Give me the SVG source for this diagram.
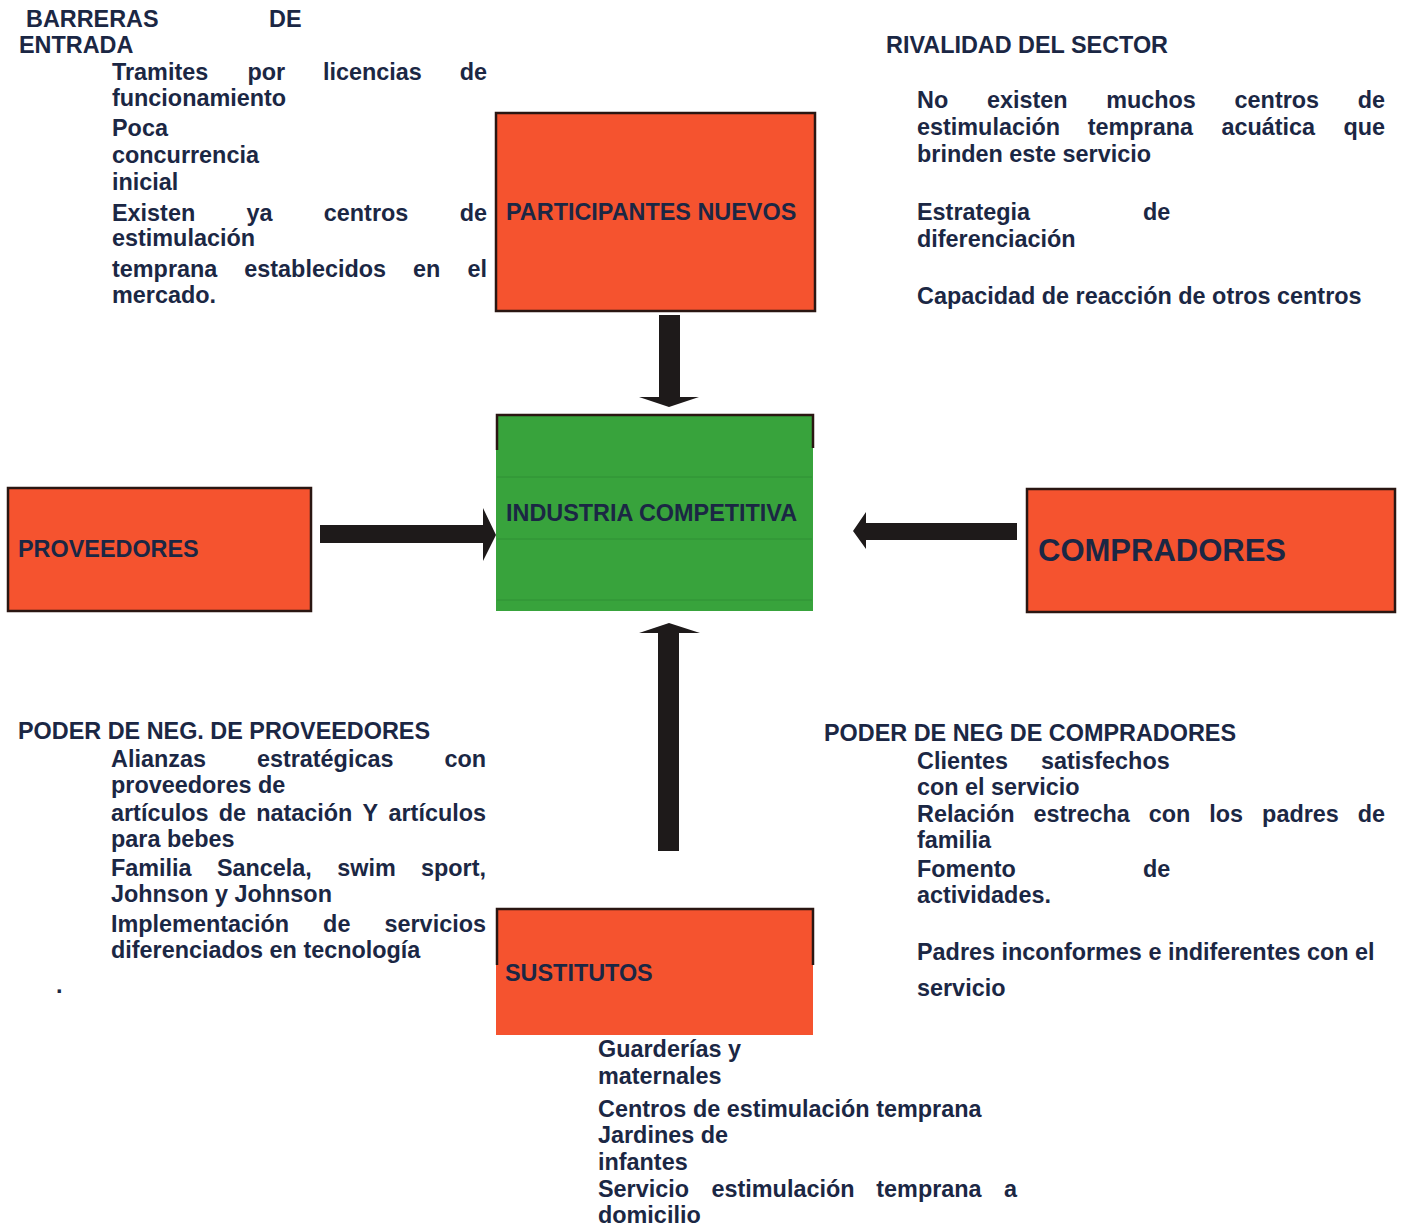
<svg xmlns="http://www.w3.org/2000/svg" width="1407" height="1230" viewBox="0 0 1407 1230">
<style>
.t{font-family:"Liberation Sans",Arial,sans-serif;font-weight:bold;font-size:23.4px;fill:#1b2744}
.big{font-size:31px}
.e{text-anchor:end}
.box{fill:#f5532f}
.grn{fill:#38a33c}
.bd{fill:none;stroke:#2a1612;stroke-width:2.5}
.arr{fill:#1e1a1a}
.faint{stroke:#2b8630;stroke-width:1;opacity:0.6}
</style>
<rect width="1407" height="1230" fill="#ffffff"/>

<g id="participantes-nuevos">
<rect class="box" x="496" y="113" width="319" height="198"/>
<rect class="bd" x="496" y="113" width="319" height="198"/>
<text class="t" x="506" y="220">PARTICIPANTES NUEVOS</text>
</g>

<g id="industria-competitiva">
<rect class="grn" x="496" y="415" width="317" height="196"/>
<line class="faint" x1="497" y1="477" x2="812" y2="477"/>
<line class="faint" x1="497" y1="539" x2="812" y2="539"/>
<line class="faint" x1="497" y1="600" x2="812" y2="600"/>
<path class="bd" d="M497,450 V415 H813 V448"/>
<text class="t" x="506" y="521">INDUSTRIA COMPETITIVA</text>
</g>

<g id="proveedores">
<rect class="box" x="8" y="488" width="303" height="123"/>
<rect class="bd" x="8" y="488" width="303" height="123"/>
<text class="t" x="18" y="557">PROVEEDORES</text>
</g>

<g id="compradores">
<rect class="box" x="1027" y="489" width="368" height="123"/>
<rect class="bd" x="1027" y="489" width="368" height="123"/>
<text class="t big" x="1038" y="561">COMPRADORES</text>
</g>

<g id="sustitutos">
<rect class="box" x="496" y="909" width="317" height="126"/>
<path class="bd" d="M497,965 V909 H813 V965"/>
<text class="t" x="505" y="981">SUSTITUTOS</text>
</g>

<g id="connectors">
<path class="arr" d="M659,315 H680 V397 H699 L669,407 L639,397 H659 Z"/>
<path class="arr" d="M320,525 H483 V508 L496,535 L483,561 V543 H320 Z"/>
<path class="arr" d="M1017,523 H866 V512 L853,531 L866,549 V540 H1017 Z"/>
<path class="arr" d="M658,851 V633 H639 L669,623 L700,633 H679 V851 Z"/>
</g>

<g id="barreras-de-entrada">
<text class="t" y="27"><tspan x="26">BARRERAS</tspan><tspan x="269">DE</tspan></text>
<text class="t" x="19" y="53">ENTRADA</text>
<text class="t" y="80"><tspan x="112">Tramites</tspan><tspan x="247.4">por</tspan><tspan x="323">licencias</tspan><tspan x="459.7">de</tspan></text>
<text class="t" x="112" y="106">funcionamiento</text>
<text class="t" x="112" y="136">Poca</text>
<text class="t" x="112" y="163">concurrencia</text>
<text class="t" x="112" y="190">inicial</text>
<text class="t" y="221"><tspan x="112">Existen</tspan><tspan x="246.5">ya</tspan><tspan x="323.8">centros</tspan><tspan x="459.7">de</tspan></text>
<text class="t" x="112" y="246">estimulación</text>
<text class="t" y="277"><tspan x="112">temprana</tspan><tspan x="244.3">establecidos</tspan><tspan x="413.1">en</tspan><tspan x="467.5">el</tspan></text>
<text class="t" x="112" y="303">mercado.</text>
</g>

<g id="rivalidad-del-sector">
<text class="t" x="886" y="53">RIVALIDAD DEL SECTOR</text>
<text class="t" y="108"><tspan x="917">No</tspan><tspan x="986.9">existen</tspan><tspan x="1106.2">muchos</tspan><tspan x="1234.6">centros</tspan><tspan x="1357.7">de</tspan></text>
<text class="t" y="135"><tspan x="917">estimulación</tspan><tspan x="1087.7">temprana</tspan><tspan x="1221.4">acuática</tspan><tspan x="1343.4">que</tspan></text>
<text class="t" x="917" y="162">brinden este servicio</text>
<text class="t" y="220"><tspan x="917">Estrategia</tspan><tspan x="1143">de</tspan></text>
<text class="t" x="917" y="247">diferenciación</text>
<text class="t" x="917" y="304">Capacidad de reacción de otros centros</text>
</g>

<g id="poder-proveedores">
<text class="t" x="18" y="739">PODER DE NEG. DE PROVEEDORES</text>
<text class="t" y="767"><tspan x="111">Alianzas</tspan><tspan x="256.9">estratégicas</tspan><tspan x="444.4">con</tspan></text>
<text class="t" x="111" y="793">proveedores de</text>
<text class="t" y="821"><tspan x="111">artículos</tspan><tspan x="218.7">de</tspan><tspan x="256.2">natación</tspan><tspan x="362.6">Y</tspan><tspan x="388.5">artículos</tspan></text>
<text class="t" x="111" y="847">para bebes</text>
<text class="t" y="876"><tspan x="111">Familia</tspan><tspan x="216.9">Sancela,</tspan><tspan x="337.2">swim</tspan><tspan x="421">sport,</tspan></text>
<text class="t" x="111" y="902">Johnson y Johnson</text>
<text class="t" y="932"><tspan x="111">Implementación</tspan><tspan x="323.1">de</tspan><tspan x="384.5">servicios</tspan></text>
<text class="t" x="111" y="958">diferenciados en tecnología</text>
<text class="t" x="56" y="993">.</text>
</g>

<g id="poder-compradores">
<text class="t" x="824" y="741">PODER DE NEG DE COMPRADORES</text>
<text class="t" y="769"><tspan x="917">Clientes</tspan><tspan x="1041">satisfechos</tspan></text>
<text class="t" x="917" y="795">con el servicio</text>
<text class="t" y="822"><tspan x="917">Relación</tspan><tspan x="1033.5">estrecha</tspan><tspan x="1148.7">con</tspan><tspan x="1209.3">los</tspan><tspan x="1262.1">padres</tspan><tspan x="1357.7">de</tspan></text>
<text class="t" x="917" y="848">familia</text>
<text class="t" y="877"><tspan x="917">Fomento</tspan><tspan x="1143">de</tspan></text>
<text class="t" x="917" y="903">actividades.</text>
<text class="t" x="917" y="960">Padres inconformes e indiferentes con el</text>
<text class="t" x="917" y="996">servicio</text>
</g>

<g id="sustitutos-lista">
<text class="t" x="598" y="1057">Guarderías y</text>
<text class="t" x="598" y="1084">maternales</text>
<text class="t" x="598" y="1117">Centros de estimulación temprana</text>
<text class="t" x="598" y="1143">Jardines de</text>
<text class="t" x="598" y="1170">infantes</text>
<text class="t" y="1197"><tspan x="598">Servicio</tspan><tspan x="711.5">estimulación</tspan><tspan x="876.3">temprana</tspan><tspan x="1004">a</tspan></text>
<text class="t" x="598" y="1223">domicilio</text>
</g>
</svg>
